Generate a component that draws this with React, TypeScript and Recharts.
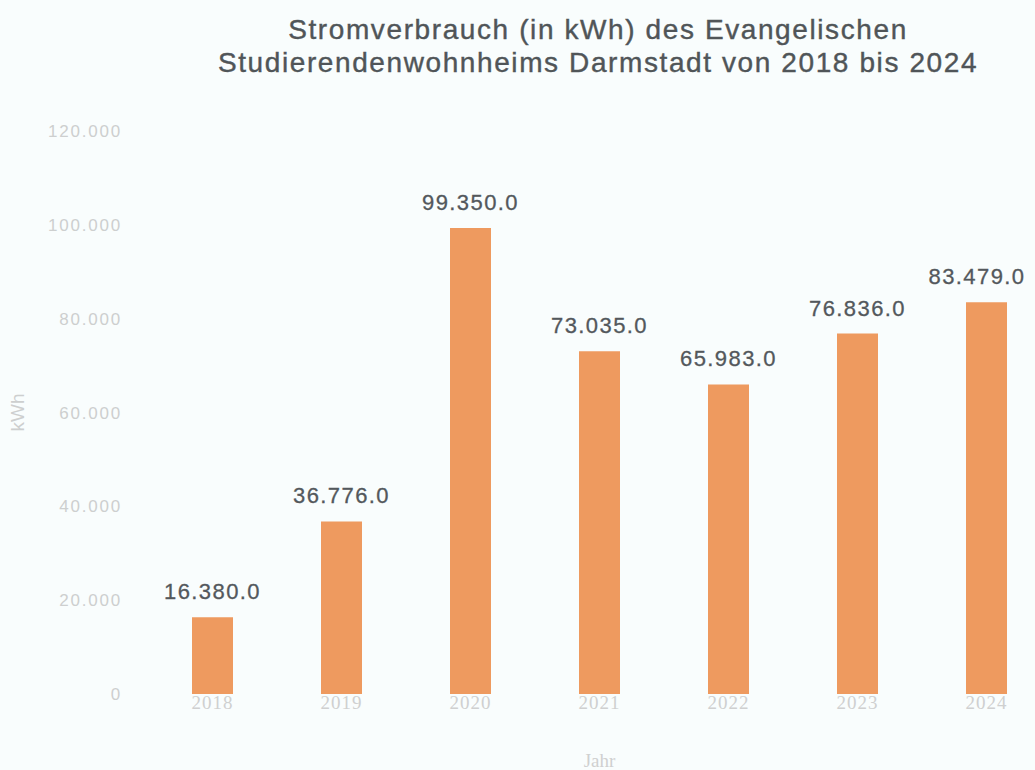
import React from "react";
import { BarChart, Bar, XAxis, YAxis, LabelList } from "recharts";

const years = ["2018", "2019", "2020", "2021", "2022", "2023", "2024"];
const consumption = [16380, 36776, 99350, 73035, 65983, 76836, 83479];
const yTicks = [0, 20000, 40000, 60000, 80000, 100000, 120000];
const titleLines = [
  "Stromverbrauch (in kWh) des Evangelischen",
  "Studierendenwohnheims Darmstadt von 2018 bis 2024",
];
const yAxisTitle = "kWh";
const xAxisTitle = "Jahr";

const data = years.map((y, i) => ({ year: y, kwh: consumption[i] }));

const fmtThousands = (v: number) =>
  String(v).replace(/\B(?=(\d{3})+(?!\d))/g, ".");
const fmtLabel = (v: any) => fmtThousands(Number(v)) + ".0";

const ValueLabel = (props: any) => {
  const { x, y, width, value } = props;
  const halfW = 54;
  let cx = Number(x) + Number(width) / 2;
  if (cx + halfW > 1031) cx = 1031 - halfW;
  return (
    <text
      x={cx}
      y={Number(y) - 18}
      textAnchor="middle"
      fill="#53585c"
      fontSize={22}
      fontFamily="Liberation Sans, Arial, sans-serif"
      letterSpacing={1.4}
      stroke="#53585c"
      strokeWidth={0.3}
    >
      {fmtLabel(value)}
    </text>
  );
};

const YTitle = (props: any) => {
  const vb = props.viewBox || {};
  const cx = 24;
  const cy = Number(vb.y) + Number(vb.height) / 2;
  return (
    <text
      x={cx}
      y={cy}
      transform={`rotate(-90 ${cx} ${cy})`}
      textAnchor="middle"
      fill="#cdcfcf"
      fontSize={19}
      fontFamily="Liberation Sans, sans-serif"
    >
      {yAxisTitle}
    </text>
  );
};

export default function App() {
  return (
    <div
      style={{
        position: "absolute",
        left: 0,
        top: 0,
        width: 1035,
        height: 770,
        overflow: "hidden",
        background: "#f9fdfd",
      }}
    >
      <div
        style={{
          position: "absolute",
          left: 0,
          width: 1196,
          top: 13,
          textAlign: "center",
          fontFamily: "Liberation Sans, Arial, sans-serif",
          fontSize: 28,
          lineHeight: "33px",
          color: "#505558",
          letterSpacing: 1.6,
          WebkitTextStroke: "0.4px #505558",
          zIndex: 2,
        }}
      >
        {titleLines.map((t) => (
          <div key={t}>{t}</div>
        ))}
      </div>
      <BarChart
        width={1060}
        height={770}
        data={data}
        margin={{ top: 131, right: 9, bottom: 0, left: 0 }}
        barSize={41}
      >
        <XAxis
          dataKey="year"
          axisLine={false}
          tickLine={false}
          tickSize={0}
          tickMargin={2}
          height={76}
          tick={{
            fill: "#cfd0d0",
            fontSize: 19,
            fontFamily: "Liberation Serif, serif",
            letterSpacing: 1,
          }}
          label={{
            value: xAxisTitle,
            position: "insideBottom",
            offset: 3,
            fill: "#cfd0d0",
            fontSize: 19,
            fontFamily: "Liberation Serif, serif",
          }}
        />
        <YAxis
          width={148}
          domain={[0, 120000]}
          ticks={yTicks}
          axisLine={false}
          tickLine={false}
          tickSize={0}
          tickMargin={26}
          tickFormatter={(v: number) => fmtThousands(v)}
          tick={{
            fill: "#cdcfcf",
            fontSize: 17,
            fontFamily: "Liberation Sans, sans-serif",
            letterSpacing: 1.8,
          }}
          label={<YTitle />}
        />
        <Bar dataKey="kwh" fill="#ee9a5f" isAnimationActive={false}>
          <LabelList dataKey="kwh" content={ValueLabel} />
        </Bar>
      </BarChart>
    </div>
  );
}
